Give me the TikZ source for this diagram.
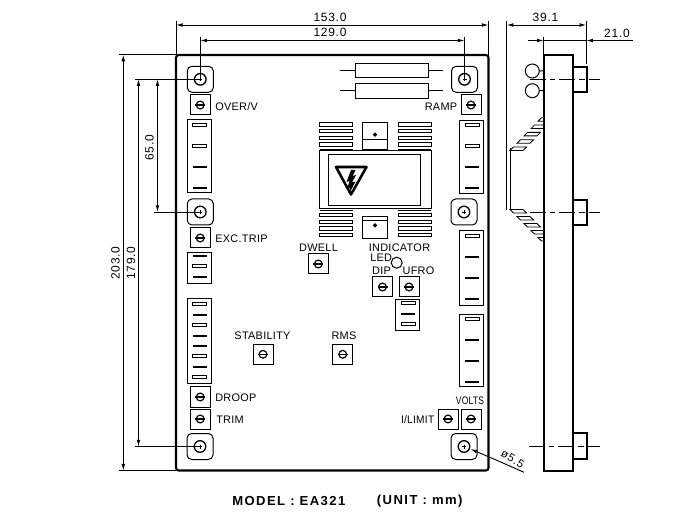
\documentclass[tikz,border=0pt]{standalone}
\usepackage{graphicx}
\usepackage{fontspec}
\setmainfont{Liberation Sans}
\newfontfamily\lblfont[LetterSpace=2.5]{Liberation Sans}
\newfontfamily\dimfont[LetterSpace=6]{Liberation Sans}
\newfontfamily\titlefont[LetterSpace=11]{Liberation Sans}
\usetikzlibrary{arrows.meta}
\definecolor{ink}{HTML}{000000}
\tikzset{
  x=0.75pt,y=-0.75pt,
  thin line/.style={draw=ink,line width=0.75pt},
  heavy line/.style={draw=ink,line width=1.6pt},
  dim line/.style={draw=ink,line width=0.7pt},
  dimarrow/.style={dim line,-{Latex[length=5pt,width=2.8pt]}},
  dimarrows/.style={dim line,{Latex[length=5pt,width=2.8pt]}-{Latex[length=5pt,width=2.8pt]}},
  center dash/.style={draw=ink,line width=0.7pt,dash pattern=on 12pt off 3pt on 4pt off 3pt},
  lbl/.style={inner sep=0pt,text=ink,font=\lblfont\fontsize{8.2}{9}\selectfont},
  dimtxt/.style={inner sep=0pt,text=ink,font=\dimfont\fontsize{9}{10}\selectfont},
  titletxt/.style={inner sep=0pt,text=ink,font=\titlefont\bfseries\fontsize{9.8}{11}\selectfont},
}
% adjustment pot, centred on #1,#2
\newcommand{\potbox}[2]{%
  \draw[thin line] (#1-10,#2-10) rectangle (#1+10,#2+10);
  \draw[draw=ink,line width=0.9pt] (#1,#2) circle[radius=3.9];
  \draw[draw=ink,line width=1pt] (#1-5,#2) -- (#1+5,#2);
}
% mounting hole in a rounded pad
\newcommand{\mountpad}[2]{%
  \draw[thin line,rounded corners=3.5pt] (#1-13,#2-13) rectangle (#1+13,#2+13);
  \draw[draw=ink,line width=1pt] (#1,#2) circle[radius=5.8];
  \draw[draw=ink,line width=0.4pt] (#1-2,#2) -- (#1+2,#2) (#1,#2-2) -- (#1,#2+2);
}
% terminal bars: hollow and solid, x-centre #1, y #2
\newcommand{\hollowtab}[2]{\draw[draw=ink,line width=0.6pt] (#1-7,#2-1.4) rectangle (#1+7,#2+1.4);}
\newcommand{\solidtab}[2]{\draw[draw=ink,line width=1.3pt] (#1-7,#2) -- (#1+7,#2);}
% fin of the heat sink
\newcommand{\finbar}[4]{\draw[draw=ink,line width=0.7pt] (#1,#3) rectangle (#2,#4);}
\newcommand{\sidefinup}[2]{\draw[draw=ink,line width=0.6pt,fill=white] (#1,#2) -- (#1+3.5,#2-3.5) -- (#1+16.5,#2-3.5) -- (#1+13,#2) -- cycle;}
\newcommand{\sidefindown}[2]{\draw[draw=ink,line width=0.6pt,fill=white] (#1,#2) -- (#1+13,#2) -- (#1+16.5,#2+3.5) -- (#1+3.5,#2+3.5) -- cycle;}
\begin{document}
\begin{tikzpicture}
\useasboundingbox[fill=white] (0,0) rectangle (700,520);

% board
\draw[heavy line,rounded corners=2pt] (176,55) rectangle (488.5,470.5);

% dimension lines, front view
\draw[dim line] (176,21) -- (176,55) (488.5,21) -- (488.5,55);
\draw[dimarrows] (176,25) -- (488.5,25);
\draw[dim line] (200.3,37) -- (200.3,79) (464.5,37) -- (464.5,79);
\draw[dimarrows] (200.3,40.5) -- (464.5,40.5);
\draw[dim line] (119,54.7) -- (176,54.7) (119,470.5) -- (176,470.5);
\draw[dimarrows] (123.3,54.7) -- (123.3,470.5);
\draw[dim line] (135,79.3) -- (200.3,79.3) (135,446.5) -- (200.3,446.5);
\draw[dimarrows] (138.5,79.3) -- (138.5,446.5);
\draw[dim line] (154,212) -- (200.3,212);
\draw[dimarrows] (157.5,79.3) -- (157.5,212);
\node[dimtxt] (d153) at (330,17.5) {153.0};
\node[dimtxt] (d129) at (330,32.5) {129.0};
\node[dimtxt,rotate=90] (d65) at (149.5,148) {65.0};
\node[dimtxt,rotate=90] (d179) at (131,263) {179.0};
\node[dimtxt,rotate=90] (d203) at (115.5,263) {203.0};

% mounting holes
\mountpad{200.3}{79.3}
\mountpad{200.3}{212}
\mountpad{200}{446.5}
\mountpad{464.5}{79.3}
\mountpad{464}{212}
\mountpad{464}{446.5}

% pots
\potbox{200.2}{105}
\potbox{200.2}{238}
\potbox{200.2}{397}
\potbox{200.2}{419}
\potbox{471}{105}
\potbox{318.3}{264}
\potbox{382.5}{287}
\potbox{409}{287}
\potbox{342.7}{354.3}
\potbox{263}{354.3}
\potbox{471}{419}
\potbox{448}{419}

% labels
\node[lbl,anchor=west] (overv) at (215,106.5) {OVER/V};
\node[lbl,anchor=west] (exctrip) at (215,238.5) {EXC.TRIP};
\node[lbl,anchor=west] (droop) at (215,397.5) {DROOP};
\node[lbl,anchor=west] (trim) at (216,420) {TRIM};
\node[lbl,anchor=east] (ramp) at (457.5,106.5) {RAMP};
\node[lbl] (dwell) at (318.5,247.5) {DWELL};
\node[lbl] (indicator) at (399.5,248) {INDICATOR};
\node[lbl,anchor=west] (led) at (370,257.5) {LED};
\node[lbl] (dip) at (381.5,270.5) {DIP};
\node[lbl] (ufro) at (418.5,270.5) {UFRO};
\node[lbl] (stability) at (262.5,335.5) {STABILITY};
\node[lbl] (rms) at (344,336) {RMS};
\node[lbl] (volts) at (470,401) {\scalebox{.78}[1]{VOLTS}};
\node[lbl,anchor=east] (ilimit) at (434.5,420) {\scalebox{.93}[1]{I/LIMIT}};
\draw[thin line] (396.7,262.7) circle[radius=5.5];

% terminal blocks, left
\draw[thin line] (187.5,120) rectangle (211.5,193);
\hollowtab{199.8}{125} \hollowtab{199.8}{146} \solidtab{199.8}{167} \solidtab{199.8}{188}
\draw[thin line] (187.5,252.3) rectangle (211.5,283.3);
\solidtab{199.8}{255.7} \hollowtab{199.8}{266} \solidtab{199.8}{277}
\draw[thin line] (187.5,298.3) rectangle (211.5,383.3);
\hollowtab{199.8}{304.3} \solidtab{199.8}{315} \hollowtab{199.8}{325.3} \solidtab{199.8}{335.7}
\solidtab{199.8}{346} \hollowtab{199.8}{356.3} \solidtab{199.8}{366.7} \hollowtab{199.8}{377}

% terminal blocks, right
\draw[thin line] (459.5,120.3) rectangle (483.5,193.3);
\hollowtab{472}{125.3} \hollowtab{472}{146} \solidtab{472}{167} \solidtab{472}{187.7}
\draw[thin line] (459.5,231) rectangle (483.5,305.7);
\hollowtab{472}{236.3} \solidtab{472}{257} \solidtab{472}{277.7} \solidtab{472}{298.7}
\draw[thin line] (459.5,314.3) rectangle (483.5,387);
\hollowtab{472}{319.3} \solidtab{472}{340} \solidtab{472}{360.7} \solidtab{472}{381.7}

% centre block
\draw[thin line] (395.5,299.3) rectangle (419.7,330.3);
\hollowtab{408}{303} \solidtab{408}{313.7} \hollowtab{408}{324.3}

% resistors
\draw[thin line] (355.3,64) rectangle (428.3,77.3);
\draw[thin line] (340,70.5) -- (355.3,70.5) (428.3,70.5) -- (443,70.5);
\draw[thin line] (355.3,83.7) rectangle (428.3,98.7);
\draw[thin line] (340,90.3) -- (355.3,90.3) (428.3,90.3) -- (443,90.3);

% transformer
\foreach \ya/\yb in {122.5/126,129.5/132.8,136.2/139.5,142.8/146}{
  \finbar{319.5}{352.7}{\ya}{\yb}
  \finbar{398.3}{431.3}{\ya}{\yb}
}
\draw[draw=ink,line width=1.1pt] (319.5,149.3) -- (352.7,149.3) (398.3,149.3) -- (431.3,149.3);
\foreach \ya/\yb in {213.3/216.7,220/223.3,226.7/230,233.3/236.7}{
  \finbar{319.5}{352.7}{\ya}{\yb}
  \finbar{398.3}{431.3}{\ya}{\yb}
}
\draw[draw=ink,line width=1.1pt] (319.5,210.5) -- (352.7,210.5) (398.3,210.5) -- (431.3,210.5);
\draw[thin line] (319.5,150.7) rectangle (431.3,209);
\draw[thin line] (328.3,154.3) rectangle (420.7,205.7);
\draw[thin line] (362.3,122.7) rectangle (387.7,149.3);
\draw[thin line] (362.3,139.3) -- (387.7,139.3);
\draw[draw=ink,line width=1pt] (375,134.7) circle[radius=1.3];
\draw[thin line] (362.3,216.7) rectangle (387.7,238.3);
\draw[thin line] (362.3,221) -- (387.7,221);
\draw[draw=ink,line width=1pt] (375,225.3) circle[radius=1.3];

% warning triangle
\draw[draw=ink,line width=1.9pt,line join=round] (336,167) -- (366.5,167) -- (351,194.5) -- cycle;
\fill[ink] (351,170) -- (346.5,182) -- (349.5,181) -- (347,189) -- (350,187.5) -- (349.5,193) -- (355.5,181.5) -- (352,182.5) -- (356,175) -- (352.5,176) -- (355.5,170) -- cycle;

% side view
\begin{scope}
\clip (505,100) rectangle (543.7,250);
\foreach \k in {4,3,2,1,0}{
  \sidefinup{510+7*\k}{150.5-7.3*\k}
  \sidefindown{510+7*\k}{209.5+7*\k}
}
\end{scope}
\draw[thin line] (510,148) -- (510,210);
\draw[heavy line] (543.8,54.7) rectangle (573.3,470.7);
\draw[heavy line] (573.3,66.7) -- (587.3,66.7) -- (587.3,91.7) -- (573.3,91.7);
\draw[heavy line] (573.3,200) -- (587.3,200) -- (587.3,225.3) -- (573.3,225.3);
\draw[heavy line] (573.3,432.7) -- (587.3,432.7) -- (587.3,459) -- (573.3,459);
\draw[center dash] (530,79.3) -- (600,79.3);
\draw[center dash] (530,212.3) -- (600,212.3);
\draw[center dash] (529,446.5) -- (600,446.5);
\draw[thin line] (532.3,71) circle[radius=7] (539.3,71) -- (543.8,71);
\draw[thin line] (532.3,90.7) circle[radius=7] (539.3,90.7) -- (543.8,90.7);

% dimension lines, side view
\draw[dim line] (506.7,21) -- (506.7,210) (586.3,21) -- (586.3,64);
\draw[dimarrows] (506.7,25) -- (586.3,25);
\draw[dim line] (543.7,37) -- (543.7,55);
\draw[dimarrow] (528,40.5) -- (543.7,40.5);
\draw[dimarrow] (633,40.5) -- (586.3,40.5);
\draw[dim line] (543.7,40.5) -- (586.3,40.5);
\node[dimtxt] (d39) at (545.5,17.5) {39.1};
\node[dimtxt] (d21) at (617,33) {21.0};

% hole leader
\draw[dim line,{Latex[length=5pt,width=2.8pt]}-] (470.5,449) -- (500,461.7) -- (524,472.3);
\node[dimtxt,rotate=-32,font=\dimfont\fontsize{8.5}{10}\selectfont] (dhole) at (512.7,459) {ø5.5};

\node[titletxt,anchor=west] (model) at (232,501) {MODEL : EA321};
\node[titletxt,anchor=west] (unit) at (376.7,501) {(UNIT : mm)};
\end{tikzpicture}
\end{document}
